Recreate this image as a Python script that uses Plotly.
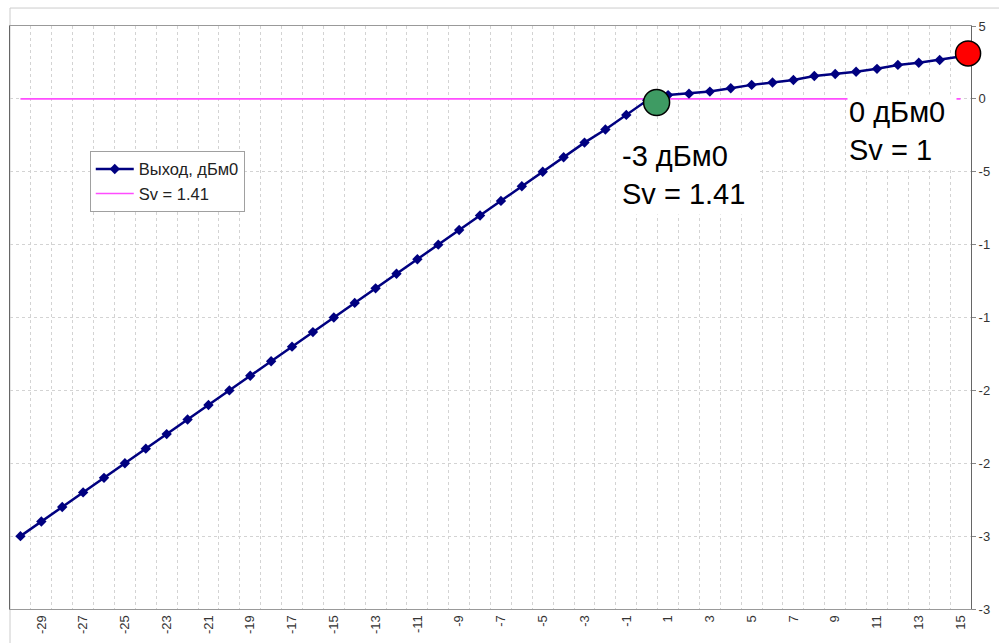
import plotly.graph_objects as go

# Input level categories, dBm0
input_db = list(range(-30, 16))

# Output level of the compander, dBm0
output_db = [
    -30, -29, -28, -27, -26, -25, -24, -23, -22, -21,
    -20, -19, -18, -17, -16, -15, -14, -13, -12, -11,
    -10, -9, -8, -7, -6, -5, -4, -3, -2.1, -1.1,
    -0.1, 0.26, 0.36, 0.5, 0.73, 0.96, 1.12, 1.29, 1.57, 1.71,
    1.86, 2.06, 2.33, 2.48, 2.67, 2.9,
]

# Reference level line (Sv = 1.41)
sv_level = [0] * len(input_db)

# Highlighted operating points
knee_x, knee_y = [0.45], [-0.25]
nominal_x, nominal_y = [15.36], [3.12]

# Right-hand axis ticks (labels shown truncated)
y_tickvals = [5, 0, -5, -10, -15, -20, -25, -30, -35]
y_ticktext = ["5", "0", "-5", "-1", "-1", "-2", "-2", "-3", "-3"]

# Bottom axis: every second category labelled, grid between categories
x_tickvals = list(range(-29, 16, 2))
x_ticktext = [str(v) for v in x_tickvals]
x_gridvals = [v + 0.5 for v in range(-30, 15)]

FONT = "Liberation Sans, Arial, sans-serif"

fig = go.Figure()

fig.add_trace(go.Scatter(
    x=input_db, y=sv_level, mode="lines", name="Sv = 1.41",
    line=dict(color="#FF4DFF", width=1.6), legendrank=2,
))

fig.add_trace(go.Scatter(
    x=input_db, y=output_db, mode="lines+markers", name="Выход, дБм0",
    line=dict(color="#000080", width=2.5),
    marker=dict(symbol="diamond", size=8, color="#000080"),
    legendrank=1,
))

fig.add_trace(go.Scatter(
    x=knee_x, y=knee_y, mode="markers", showlegend=False, cliponaxis=False,
    marker=dict(size=26, color="#3E9B63", line=dict(color="black", width=1.5)),
))

fig.add_trace(go.Scatter(
    x=nominal_x, y=nominal_y, mode="markers", showlegend=False, cliponaxis=False,
    marker=dict(size=25, color="#FF0000", line=dict(color="black", width=1.5)),
))

fig.add_annotation(
    x=-1.45, y=-2.5, xref="x", yref="y", xanchor="left", yanchor="top",
    text="-3 дБм0<br>Sv = 1.41", showarrow=False, align="left",
    font=dict(family=FONT, size=29, color="black"),
    bgcolor="white", borderpad=4, width=132,
)

fig.add_annotation(
    x=9.55, y=0.34, xref="x", yref="y", xanchor="left", yanchor="top",
    text="0 дБм0<br>Sv = 1", showarrow=False, align="left",
    font=dict(family=FONT, size=29, color="black"),
    bgcolor="white", borderpad=1, width=106,
)

# Outer chart frame
fig.add_shape(
    type="rect", xref="paper", yref="paper",
    x0=0, x1=1.5, y0=-0.5, y1=1.0308,
    line=dict(color="#CCCCCC", width=1), fillcolor="rgba(0,0,0,0)",
    layer="below",
)

fig.update_layout(
    width=999, height=643,
    margin=dict(l=9, r=24, t=26, b=33),
    paper_bgcolor="white", plot_bgcolor="white",
    font=dict(family=FONT, size=12, color="#333333"),
    legend=dict(
        x=0.083, y=0.786, xanchor="left", yanchor="top",
        bgcolor="white", bordercolor="#A0A0A0", borderwidth=1,
        font=dict(family=FONT, size=16.5, color="#222222"),
        tracegroupgap=0, itemwidth=38,
    ),
    xaxis=dict(
        range=[-30.5, 15.5], tickmode="array", tickvals=x_tickvals,
        ticktext=x_ticktext,
        tickangle=-90, showgrid=False, zeroline=False,
        showline=True, linecolor="#999999", linewidth=1, mirror=True,
        ticks="", tickfont=dict(size=13, color="#333333"),
        layer="below traces",
        minor=dict(tickmode="array", tickvals=x_gridvals, showgrid=True,
                   gridcolor="#D3D3D3", griddash="dot", gridwidth=1, ticks=""),
    ),
    yaxis=dict(
        range=[-35, 5], side="right", tickmode="array",
        tickvals=y_tickvals, ticktext=y_ticktext,
        showgrid=True, gridcolor="#D3D3D3", griddash="dot", gridwidth=1,
        zeroline=False, showline=True, linecolor="#666666", linewidth=1,
        mirror=True, ticks="outside", ticklen=4, tickcolor="#888888",
        tickfont=dict(size=13, color="#333333"),
        layer="below traces",
    ),
    showlegend=True,
)

fig.write_html("out.html")
